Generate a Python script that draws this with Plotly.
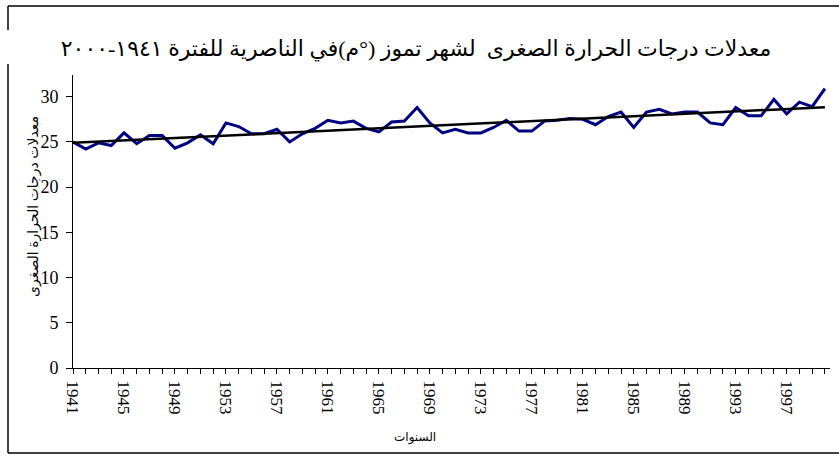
import numpy as np
import plotly.graph_objects as go

# ---------------- DATA ----------------
years = list(range(1941, 2001))
tmin = [25.0, 24.2, 24.9, 24.6, 26.0, 24.8, 25.7, 25.7, 24.3, 24.9,
        25.8, 24.8, 27.1, 26.7, 25.9, 25.9, 26.4, 25.0, 25.9, 26.5,
        27.4, 27.1, 27.3, 26.5, 26.1, 27.2, 27.3, 28.8, 27.1, 26.0,
        26.4, 26.0, 26.0, 26.6, 27.4, 26.2, 26.2, 27.3, 27.4, 27.6,
        27.5, 26.9, 27.8, 28.3, 26.6, 28.3, 28.6, 28.1, 28.3, 28.3,
        27.1, 26.9, 28.8, 27.9, 27.9, 29.7, 28.1, 29.4, 28.9, 30.9]
tick_years = list(range(1941, 2000, 4))
y_ticks = [0, 5, 10, 15, 20, 25, 30]

title_text = 'معدلات درجات الحرارة الصغرى  لشهر تموز (°م)في الناصرية للفترة ١٩٤١-٢٠٠٠'
y_title = 'معدلات درجات الحرارة الصغرى'
x_title = 'السنوات'

# linear trend line fitted to the series
slope, intercept = np.polyfit(years, tmin, 1)
trend = [slope * y + intercept for y in years]

# ---------------- FORMATTING ----------------
serif = 'Liberation Serif, Times New Roman, DejaVu Serif, serif'
arabic = 'Liberation Serif, DejaVu Sans, serif'
W, H = 839, 458
L, R, T, B = 73, 9, 75, 90
pw, ph = W - L - R, H - T - B


def px_x(x):
    return (x - L) / pw


def px_y(y):
    return (H - B - y) / ph


fig = go.Figure()
fig.add_trace(go.Scatter(x=years, y=tmin, mode='lines',
                         line=dict(color='#000080', width=3), showlegend=False))
fig.add_trace(go.Scatter(x=years, y=trend, mode='lines',
                         line=dict(color='black', width=2.5), showlegend=False))

fig.update_layout(width=W, height=H, margin=dict(l=L, r=R, t=T, b=B),
                  plot_bgcolor='white', paper_bgcolor='white',
                  title=dict(text=title_text, x=416 / W, y=1 - 48 / H,
                             xanchor='center', yanchor='middle',
                             font=dict(family=arabic, size=22, color='black')))

fig.update_xaxes(range=[1941, 2000.4], tickvals=tick_years, tickangle=90,
                 showgrid=False, zeroline=False, showline=True,
                 linecolor='black', linewidth=1, ticks='outside', ticklen=5,
                 tickcolor='black', ticklabelstandoff=3,
                 minor=dict(dtick=1, tick0=1941, ticks='outside', ticklen=5,
                            tickcolor='black', showgrid=False),
                 tickfont=dict(family=serif, size=17, color='black'))
fig.update_yaxes(range=[0, 32.4], tickvals=y_ticks,
                 showgrid=False, zeroline=False, showline=True,
                 linecolor='black', linewidth=1, ticks='outside', ticklen=6,
                 tickcolor='black', ticklabelstandoff=4,
                 tickfont=dict(family=serif, size=18, color='black'))

fig.add_annotation(text=y_title, xref='paper', yref='paper',
                   x=px_x(24), y=px_y(207), textangle=-90, showarrow=False,
                   font=dict(family=arabic, size=14, color='black'))
fig.add_annotation(text=x_title, xref='paper', yref='paper',
                   x=px_x(415), y=px_y(447), showarrow=False,
                   font=dict(family=arabic, size=12, color='black'))

# chart frame (left edge broken by the title)
frame = dict(color='black', width=1.5)
fig.add_shape(type='line', xref='paper', yref='paper', x0=px_x(8), x1=px_x(845),
              y0=px_y(6), y1=px_y(6), line=frame)
fig.add_shape(type='line', xref='paper', yref='paper', x0=px_x(8), x1=px_x(845),
              y0=px_y(453), y1=px_y(453), line=frame)
fig.add_shape(type='line', xref='paper', yref='paper', x0=px_x(8), x1=px_x(8),
              y0=px_y(6), y1=px_y(30), line=frame)
fig.add_shape(type='line', xref='paper', yref='paper', x0=px_x(8), x1=px_x(8),
              y0=px_y(64), y1=px_y(453), line=frame)

# page body has an 8px default margin; drop it so the figure sits at 0,0
fig.write_html('out.html', config={'displayModeBar': False},
               post_script="document.body.style.margin='0';")
